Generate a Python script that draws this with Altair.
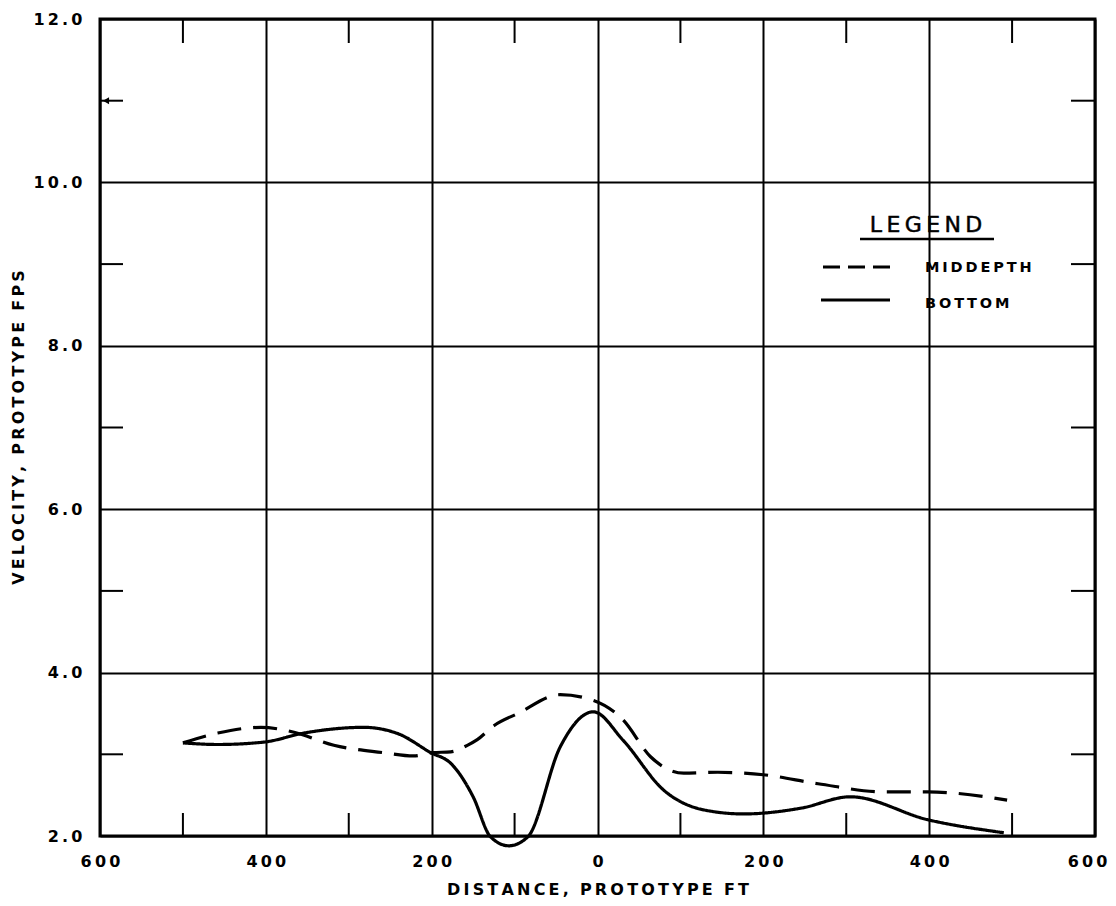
import altair as alt
import pandas as pd

# ---- data ----
bottom_x = [-500, -458, -402, -354, -282, -240, -201, -177, -150, -129, -107, -84, -45, -5, 31, 80, 128, 176, 245, 305, 398, 490]
bottom_v = [3.14, 3.12, 3.15, 3.26, 3.33, 3.25, 3.02, 2.89, 2.48, 1.99, 1.88, 1.99, 3.09, 3.52, 3.17, 2.56, 2.32, 2.27, 2.34, 2.48, 2.20, 2.04]

mid_x = [-500, -458, -406, -366, -318, -258, -222, -199, -177, -157, -145, -125, -96, -45, -5, 31, 64, 104, 145, 200, 266, 345, 398, 494]
mid_v = [3.14, 3.26, 3.33, 3.27, 3.11, 3.02, 2.98, 3.02, 3.03, 3.11, 3.18, 3.35, 3.50, 3.73, 3.66, 3.42, 2.97, 2.77, 2.78, 2.75, 2.64, 2.54, 2.54, 2.44]

series_names = ["MIDDEPTH", "BOTTOM"]
x_ticks = [-600, -400, -200, 0, 200, 400, 600]
y_ticks = [2, 4, 6, 8, 10, 12]
minor_x = [-500, -300, -100, 100, 300, 500]
minor_y = [3, 5, 7, 9, 11]
arrow_y = [11]

W, H = 995, 817
FONT = "DejaVu Sans"
TS = "\u2009"      # thin space between letters
WS = "\u00a0\u00a0"  # non-collapsing gap between words


def spaced(s):
    return WS.join(TS.join(list(w)) for w in s.split(" "))


df = pd.concat([
    pd.DataFrame({"d": mid_x, "v": mid_v, "series": series_names[0]}),
    pd.DataFrame({"d": bottom_x, "v": bottom_v, "series": series_names[1]}),
])

xs = alt.Scale(domain=[-600, 600], nice=False, zero=False)
ys = alt.Scale(domain=[2, 12], nice=False, zero=False)

x_axis = alt.Axis(
    values=x_ticks,
    labelExpr="join(split(format(abs(datum.value),'d'),''),'\u2009')",
    labelBaseline="middle",
    labelPadding=25,
    labelAlign={"expr": "datum.value >= 600 ? 'right' : 'center'"},
    labelOffset={"expr": "datum.value >= 600 ? 12 : 0"},
    title=spaced("DISTANCE, PROTOTYPE FT"),
    titleY=53,
    titleBaseline="middle",
)
y_axis = alt.Axis(
    values=y_ticks,
    labelExpr="join(split(format(datum.value,'.1f'),''),'\u2009')",
    labelPadding=18,
    title=spaced("VELOCITY, PROTOTYPE FPS"),
    titleX=-82,
    titleY=408,
    titleAngle=270,
    titleBaseline="middle",
    titleAlign="center",
)


def X(f="d"):
    return alt.X(f"{f}:Q", scale=xs, axis=x_axis)


def Y(f="v"):
    return alt.Y(f"{f}:Q", scale=ys, axis=y_axis)


lines = alt.Chart(df).mark_line(interpolate="monotone", color="black", strokeWidth=3.2).encode(
    x=X(),
    y=Y(),
    detail="series:N",
    strokeDash=alt.StrokeDash(
        "series:N",
        scale=alt.Scale(domain=series_names, range=[[24, 12], [1, 0]]),
        legend=None,
    ),
)

mx = pd.DataFrame({"d": minor_x})
my = pd.DataFrame({"v": minor_y})

tick_bottom = alt.Chart(mx).mark_rule(color="black", strokeWidth=2).encode(
    x=X(), y=alt.value(H), y2=alt.value(H - 23))
tick_top = alt.Chart(mx).mark_rule(color="black", strokeWidth=2).encode(
    x=X(), y=alt.value(0), y2=alt.value(24))
tick_left = alt.Chart(my).mark_rule(color="black", strokeWidth=2).encode(
    y=Y(), x=alt.value(0), x2=alt.value(23))
tick_right = alt.Chart(my).mark_rule(color="black", strokeWidth=2).encode(
    y=Y(), x=alt.value(W), x2=alt.value(W - 24))
arrow = alt.Chart(pd.DataFrame({"v": arrow_y})).mark_point(
    shape="triangle-left", filled=True, color="black", size=50, opacity=1).encode(
    y=Y(), x=alt.value(6))

# ---- legend ----
leg_title = alt.Chart(pd.DataFrame({"t": [spaced("LEGEND")]})).mark_text(
    font=FONT, fontSize=22, color="black", align="center", baseline="middle",
    stroke="black", strokeWidth=0.5).encode(
    text="t:N", x=alt.value(826), y=alt.value(206))
leg_under = alt.Chart(pd.DataFrame({"t": ["u"]})).mark_rule(color="black", strokeWidth=2.5).encode(
    x=alt.value(760), x2=alt.value(894), y=alt.value(220))
leg_dash = alt.Chart(pd.DataFrame({"t": ["d"]})).mark_rule(
    color="black", strokeWidth=3.2, strokeDash=[17, 8]).encode(
    x=alt.value(723), x2=alt.value(790), y=alt.value(248))
leg_solid = alt.Chart(pd.DataFrame({"t": ["s"]})).mark_rule(color="black", strokeWidth=3.2).encode(
    x=alt.value(721), x2=alt.value(790), y=alt.value(281))
leg_t1 = alt.Chart(pd.DataFrame({"t": [spaced(series_names[0])]})).mark_text(
    font=FONT, fontSize=14.5, fontWeight="bold", color="black", align="left", baseline="middle").encode(
    text="t:N", x=alt.value(825), y=alt.value(249))
leg_t2 = alt.Chart(pd.DataFrame({"t": [spaced(series_names[1])]})).mark_text(
    font=FONT, fontSize=14.5, fontWeight="bold", color="black", align="left", baseline="middle").encode(
    text="t:N", x=alt.value(825), y=alt.value(285))

chart = alt.layer(
    lines, tick_bottom, tick_top, tick_left, tick_right, arrow,
    leg_title, leg_under, leg_dash, leg_solid, leg_t1, leg_t2,
).properties(
    width=W, height=H,
    autosize=alt.AutoSizeParams(type="none"),
    padding={"left": 92, "top": 11, "right": 13, "bottom": 62},
    background="white",
).configure_view(
    stroke="black", strokeWidth=3,
).configure_axis(
    grid=True, gridColor="black", gridWidth=2, gridOpacity=1,
    domain=False, ticks=False, tickSize=0,
    labelFont=FONT, labelFontWeight="bold", labelFontSize=16, labelColor="black",
    labelFlush=False, labelOverlap=False,
    titleFont=FONT, titleFontWeight="bold", titleFontSize=16, titleColor="black",
)

chart.save("out.html", embed_options={"renderer": "svg", "actions": False})
